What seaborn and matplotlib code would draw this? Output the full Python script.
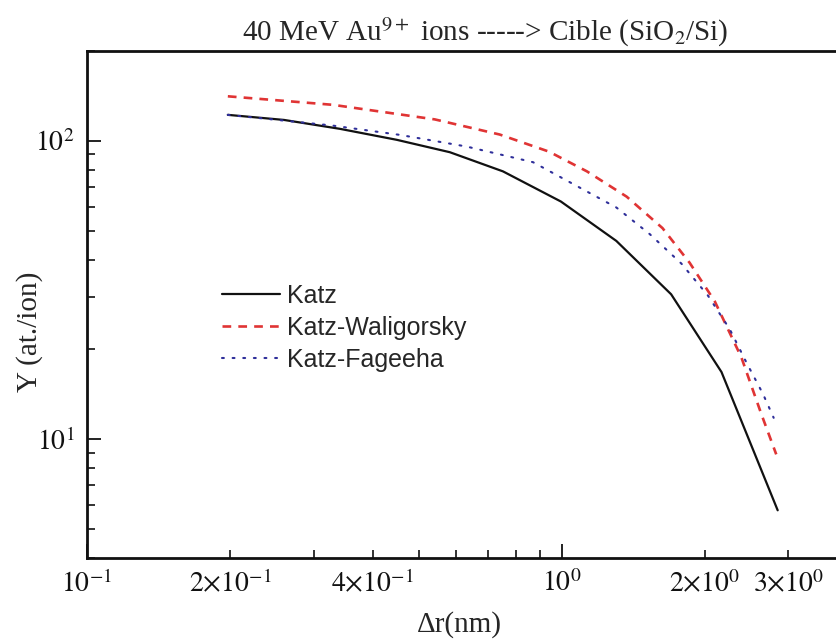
import numpy as np
import pandas as pd
import matplotlib
matplotlib.use("Agg")
import matplotlib.pyplot as plt
import matplotlib.ticker as mticker
import seaborn as sns

# ---- data ----
katz_x = [0.198, 0.26, 0.341, 0.449, 0.581, 0.752, 0.996, 1.303, 1.70, 2.17, 2.85]
katz_y = [122.2, 117.5, 109.7, 100.8, 91.6, 79.0, 62.6, 46.2, 30.6, 16.8, 5.78]

wal_x = [0.198, 0.33, 0.54, 0.74, 0.94, 1.13, 1.37, 1.63, 1.86, 2.10, 2.39, 2.63, 2.83]
wal_y = [141.0, 132.0, 118.0, 105.0, 92.0, 79.0, 65.0, 51.0, 39.0, 29.0, 18.8, 12.2, 8.9]

fag_x = [0.198, 0.329, 0.456, 0.630, 0.870, 1.056, 1.303, 1.532, 1.786, 2.032, 2.258, 2.448, 2.653, 2.795]
fag_y = [122.2, 112.5, 104.7, 95.7, 84.8, 71.7, 59.8, 48.7, 38.8, 30.3, 23.4, 18.1, 14.2, 11.8]

series_names = ["Katz", "Katz-Waligorsky", "Katz-Fageeha"]

x_tick_major = [0.1, 1.0]
x_tick_minor = [0.2, 0.3, 0.4, 0.5, 0.6, 0.7, 0.8, 0.9, 2.0, 3.0]
x_major_labels = [r"$10^{-1}$", r"$10^{0}$"]
x_minor_labels = [r"$2{\times}10^{-1}$", "", r"$4{\times}10^{-1}$", "", "", "", "", "",
                  r"$2{\times}10^{0}$", r"$3{\times}10^{0}$"]
y_tick_major = [10.0, 100.0]
y_major_labels = [r"$10^{1}$", r"$10^{2}$"]

title_text = r"40 MeV Au$^{9+}$ ions -----> Cible (SiO$_2$/Si)"
xlabel_text = "Δr(nm)"
ylabel_text = "Y (at./ion)"

# ---- style ----
sns.set_style("ticks")
plt.rcParams["font.family"] = ["Liberation Serif", "DejaVu Serif"]
plt.rcParams["mathtext.fontset"] = "stix"

fig = plt.figure(figsize=(8.37, 6.44), dpi=100)
ax = fig.add_axes([87/837, 1 - 558/644, 750/837, (558 - 51)/644])

df_k = pd.DataFrame({"x": katz_x, "y": katz_y})
df_w = pd.DataFrame({"x": wal_x, "y": wal_y})
df_f = pd.DataFrame({"x": fag_x, "y": fag_y})

sns.lineplot(data=df_k, x="x", y="y", ax=ax, color="#111111", lw=1.6, sort=False)
sns.lineplot(data=df_w, x="x", y="y", ax=ax, color="#e03434", lw=1.9, sort=False)
sns.lineplot(data=df_f, x="x", y="y", ax=ax, color="#2f2f9a", lw=1.5, sort=False)
l_k, l_w, l_f = ax.lines[:3]
l_w.set_dashes((3.3, 2.7))
l_f.set_dashes((0.9, 4.2))
l_f.set_dash_capstyle("round")

ax.set_xscale("log")
ax.set_yscale("log")
ax.set_xlim(0.1, 3.8)
ax.set_ylim(4, 200)

ax.xaxis.set_major_locator(mticker.FixedLocator(x_tick_major))
ax.xaxis.set_major_formatter(mticker.FixedFormatter(x_major_labels))
ax.xaxis.set_minor_locator(mticker.FixedLocator(x_tick_minor))
ax.xaxis.set_minor_formatter(mticker.FixedFormatter(x_minor_labels))
ax.yaxis.set_major_locator(mticker.FixedLocator(y_tick_major))
ax.yaxis.set_major_formatter(mticker.FixedFormatter(y_major_labels))
ax.yaxis.set_minor_locator(mticker.LogLocator(base=10, subs=np.arange(2, 10)))
ax.yaxis.set_minor_formatter(mticker.NullFormatter())

ax.tick_params(which="both", direction="in", colors="#111111", labelsize=20, pad=9)
ax.tick_params(which="major", length=10, width=1.3)
ax.tick_params(which="minor", length=5.5, width=1.2)

for side in ["left", "bottom", "top"]:
    ax.spines[side].set_linewidth(2.0)
    ax.spines[side].set_color("#111111")
ax.spines["right"].set_visible(False)

ax.set_xlabel(xlabel_text, fontsize=21)
ax.set_ylabel(ylabel_text, fontsize=21)
ax.xaxis.set_label_coords(0.497, -0.105)
ax.yaxis.set_label_coords(-0.058, 0.446)

fig.text(485/837, 1 - 41/644, title_text, ha="center", va="baseline", fontsize=21)

leg = ax.legend([l_k, l_w, l_f], series_names, loc="upper left",
                bbox_to_anchor=((222 - 87)/750, (558 - 284)/507),
                frameon=False, borderpad=0, borderaxespad=0,
                handlelength=2.32, handletextpad=0.28, labelspacing=0.32,
                prop={"family": "Liberation Sans", "size": 18})

fig.savefig("out.png", dpi=100)
